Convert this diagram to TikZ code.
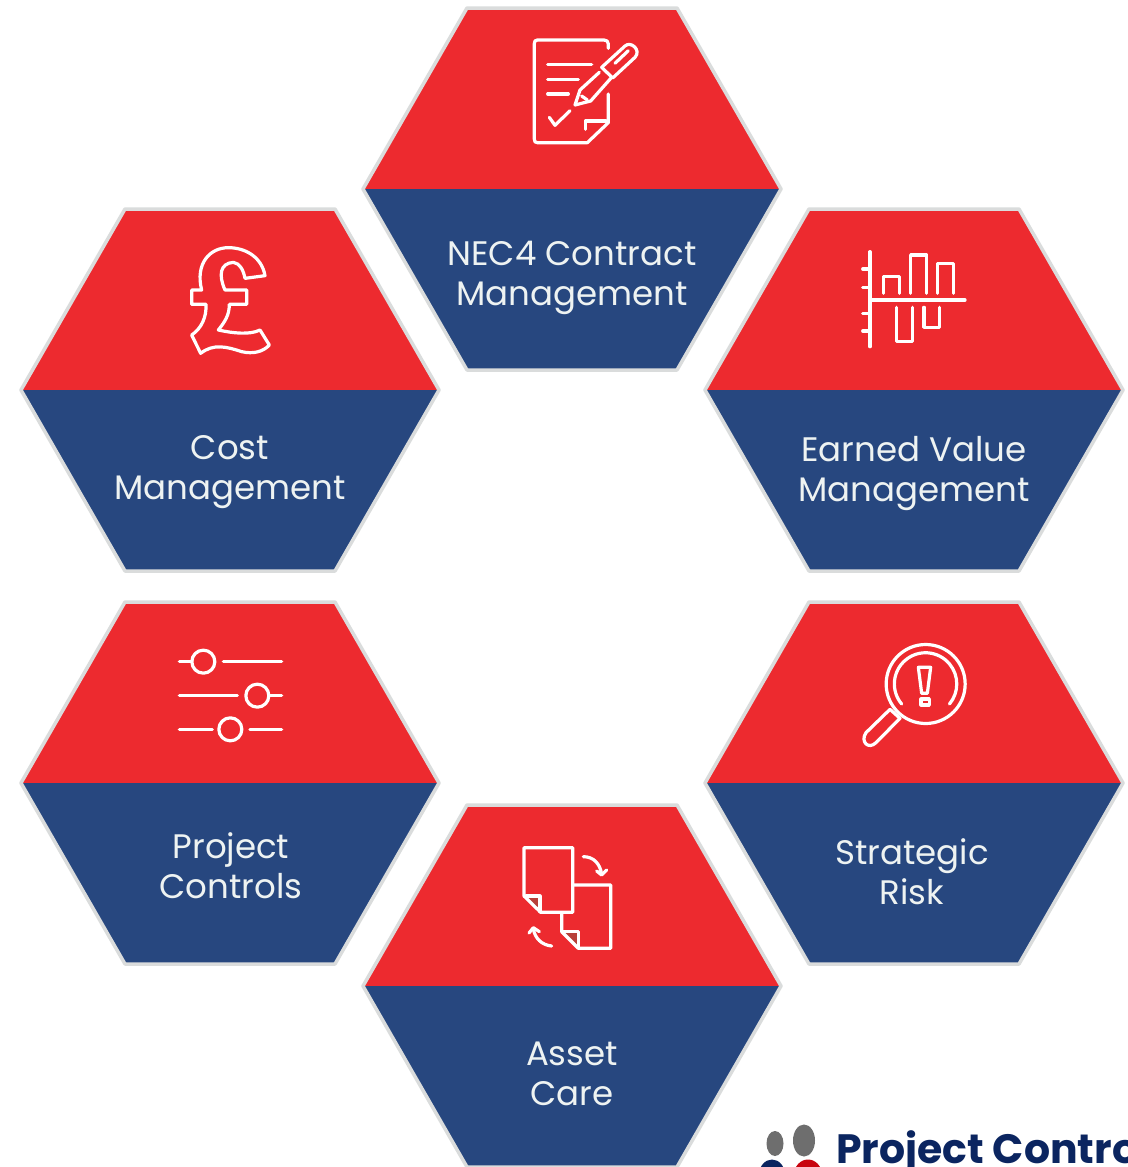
\documentclass[tikz,border=0pt]{standalone}
\usepackage{fontspec}
\setmainfont{Poppins}
\newfontfamily\logofont{Poppins}
\definecolor{hexred}{HTML}{ED2A2F}
\definecolor{hexblue}{HTML}{27477F}
\definecolor{hexedge}{HTML}{DADCDC}
\definecolor{labelwhite}{HTML}{EEF3F2}
\definecolor{logonavy}{HTML}{0B2560}
\definecolor{logored}{HTML}{C8050F}
\definecolor{logogray}{HTML}{6E6E6E}
\definecolor{foldshade}{HTML}{B8403A}
\tikzset{
  hexlabel/.style={text=labelwhite,align=center,font=\fontsize{34}{40}\selectfont,inner sep=0pt},
  iconline/.style={draw=white,line width=3.2pt,line cap=round,line join=round},
  iconat/.style 2 args={shift={(#1,#2)},x=0.33333pt,y=-0.33333pt}
}
\newcommand{\hexcell}[2]{%
  \fill[hexred] (#1-209,#2) -- (#1-105,#2-181) -- (#1+105,#2-181) -- (#1+209,#2) -- cycle;
  \fill[hexblue] (#1-209,#2) -- (#1-105,#2+181) -- (#1+105,#2+181) -- (#1+209,#2) -- cycle;
  \draw[hexedge,line width=3.5pt,line join=round] (#1-209,#2) -- (#1-105,#2-181) -- (#1+105,#2-181) -- (#1+209,#2) -- (#1+105,#2+181) -- (#1-105,#2+181) -- cycle;
}
\begin{document}
\begin{tikzpicture}[x=1pt,y=-1pt]
\path[use as bounding box] (0,0) rectangle (1127,1167);
\clip (0,0) rectangle (1127,1167);
\fill[white] (0,0) rectangle (1127,1167);
\hexcell{572}{189}
\hexcell{230}{390}
\hexcell{914}{390}
\hexcell{230}{783}
\hexcell{914}{783}
\hexcell{572}{986}
\node[hexlabel] (nec) at (572,278) {NEC4 Contract\\Management};
\node[hexlabel] (cost) at (230,472) {Cost\\Management};
\node[hexlabel] (ev) at (914,474) {Earned Value\\Management};
\node[hexlabel] (pc) at (231,866) {Project\\Controls};
\node[hexlabel] (risk) at (912,872) {Strategic\\Risk};
\node[hexlabel] (asset) at (572,1074) {Asset\\Care};
% contract icon
\begin{scope}[iconat={500}{20}]
\draw[iconline] (325,85) -- (325,72) .. controls (325,64) and (320,60) .. (312,60) -- (112,60) .. controls (106,60) and (103,64) .. (103,70) -- (103,358) .. controls (103,365) and (106,368) .. (112,368) -- (262,368) -- (325,308) -- (325,222);
\draw[iconline] (256,328) -- (256,303) -- (318,303);
\draw[iconline] (143,133) -- (275,133) (143,178) -- (235,178) (143,222) -- (205,222);
\draw[iconline] (148,292) -- (165,316) -- (210,272);
\draw[iconline] (298,157) -- (240,210) -- (225,255) -- (272,243) -- (335,172);
\draw[iconline] (245,228) -- (262,240);
\draw[iconline] (305,142) -- (375,78) .. controls (392,62) and (425,90) .. (405,112) -- (338,174) -- cycle;
\draw[iconline] (345,130) -- (385,92);
\end{scope}
% chart icon
\begin{scope}[iconat={840}{230}]
\draw[iconline] (90,65) -- (90,350);
\draw[iconline] (68,117) -- (90,117) (68,172) -- (90,172) (68,250) -- (90,250) (68,303) -- (90,303);
\draw[iconline] (90,210) -- (375,210);
\draw[iconline] (130,190) -- (130,140) -- (178,140) -- (178,190);
\draw[iconline] (212,190) -- (212,75) -- (260,75) -- (260,190);
\draw[iconline] (292,190) -- (292,100) -- (340,100) -- (340,190);
\draw[iconline] (170,232) -- (170,335) -- (218,335) -- (218,232);
\draw[iconline] (252,232) -- (252,292) -- (298,292) -- (298,232);
\end{scope}
% magnifier icon
\begin{scope}[iconat={840}{630}]
\draw[iconline] (257,162) circle[radius=39.5pt];
\draw[iconline] (185,222) arc[start angle=220,end angle=-40,radius=31.2pt];
\draw[iconline] (150,238) -- (78,308) .. controls (60,335) and (85,360) .. (108,338) -- (180,265) -- cycle;
\draw[iconline] (235,112) -- (272,112) -- (262,190) -- (245,190) -- cycle;
\draw[iconline] (243,207) rectangle (268,225);
\end{scope}
% pages icon
\begin{scope}[iconat={500}{835}]
\fill[foldshade] (78,183) -- (120,183) -- (120,230) -- cycle;
\fill[foldshade] (190,290) -- (235,290) -- (235,338) -- cycle;
\draw[iconline] (72,38) -- (218,38) -- (218,232) -- (122,232) -- (72,183) -- cycle;
\draw[iconline] (78,183) -- (120,183) -- (120,230);
\draw[iconline] (222,150) -- (332,150) -- (332,340) -- (235,340) -- (185,290) -- (185,235);
\draw[iconline] (190,290) -- (235,290) -- (235,338);
\draw[iconline] (250,65) .. controls (280,65) and (300,85) .. (305,118);
\draw[iconline] (290,108) -- (305,120) -- (320,105);
\draw[iconline] (155,333) .. controls (125,330) and (105,310) .. (100,282);
\draw[iconline] (87,294) -- (100,278) -- (118,290);
\end{scope}
% pound icon
\begin{scope}[iconat={170}{235}]
\draw[iconline] (285,122) .. controls (275,65) and (225,38) .. (175,38) .. controls (120,38) and (75,85) .. (95,165) -- (65,165) -- (65,208) -- (108,208) .. controls (110,245) and (95,280) .. (65,300) -- (92,355) .. controls (130,325) and (170,335) .. (215,350) .. controls (250,358) and (280,350) .. (298,330) -- (270,285) .. controls (240,300) and (190,295) .. (145,285) .. controls (165,260) and (178,240) .. (178,208) -- (230,208) -- (230,165) -- (165,165) .. controls (145,120) and (150,85) .. (190,82) .. controls (210,85) and (220,105) .. (225,130) -- cycle;
\end{scope}
% sliders icon
\begin{scope}[iconat={160}{635}]
\draw[iconline] (58,80) -- (95,80) (190,80) -- (365,80);
\draw[iconline] (130,80) circle[radius=11.5pt];
\draw[iconline] (58,182) -- (232,182) (330,182) -- (365,182);
\draw[iconline] (292,182) circle[radius=11.5pt];
\draw[iconline] (58,283) -- (157,283) (270,283) -- (365,283);
\draw[iconline] (211,283) circle[radius=11.5pt];
\end{scope}
% logo
\fill[logogray] (775,1143.5) ellipse[x radius=8.5pt,y radius=12.5pt];
\fill[logogray] (804,1140.5) ellipse[x radius=11pt,y radius=16pt];
\fill[logonavy] (772,1175) ellipse[x radius=13pt,y radius=15.5pt];
\fill[logored] (808,1175) ellipse[x radius=14pt,y radius=15.5pt];
\node[anchor=base west,inner sep=0pt,text=logonavy,font=\logofont\bfseries\fontsize{41}{41}\selectfont] (logotext) at (836,1163) {Project Contro};
\end{tikzpicture}
\end{document}
